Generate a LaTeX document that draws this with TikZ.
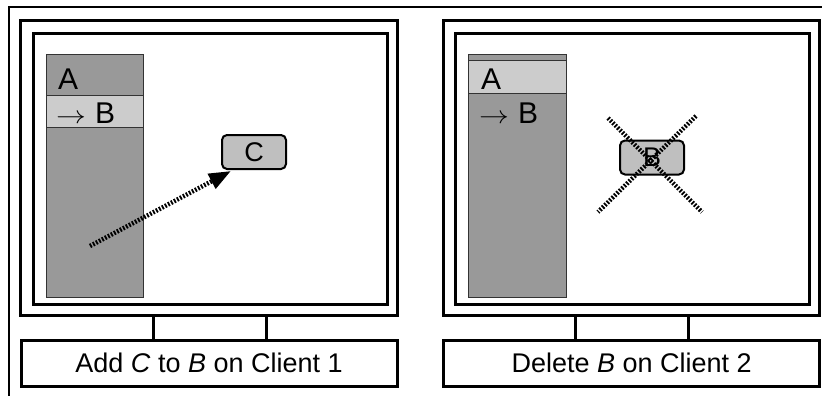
\documentclass[tikz,border=0pt]{standalone}
\usepackage{fontspec}
\setmainfont{Liberation Sans}
\usetikzlibrary{arrows.meta}
\tikzset{>=stealth}
\tikzset{
    frame/.style={line width=3pt},
    panel/.style={draw=black!80, line width=1pt, fill=black!40},
    rowbox/.style={draw=black!80, line width=1pt, fill=black!20},
    item/.style={draw, line width=2pt, rounded corners=5pt, fill=gray!50,
        minimum width=64pt, minimum height=34pt, inner sep=0pt},
    trail/.style={line width=4.5pt, dash pattern=on 1.8pt off 1.6pt},
    entry/.style={anchor=base west, inner sep=0pt, font=\fontsize{30}{36}\selectfont}
}
\newcommand{\pointer}{\scalebox{1.2}[1]{$\rightarrow$}\hspace{9pt}}

\begin{document}
\begin{tikzpicture}[x=1pt, y=-1pt, font=\fontsize{27}{32}\selectfont]
    \useasboundingbox (0,0) rectangle (822,396);
    \draw[line width=2.4pt] (822,7) -- (9,7) -- (9,396);
    \foreach \dx/\n/\txt in {0/1/{Add \textit{C} to \textit{B} on Client 1},
                             422.6/2/{Delete \textit{B} on Client 2}} {
        \begin{scope}[xshift=\dx]
            \draw[frame] (20.7,20.7) rectangle (397,315.7);
            \draw[frame, fill=white] (33,34) rectangle (387.3,304);
            \draw[panel] (46,54.3) rectangle (143.7,297.7);
            \draw[frame] (153,315.7) rectangle (266,340);
            \draw[frame] (21,340) rectangle (397,386.7);
            \node[inner sep=0pt] (cap\n) at (209,363.3) {\txt};
        \end{scope}
    }
    % client 1
    \draw[rowbox] (46,95) rectangle (143.7,127);
    \node[entry] (a1) at (58,89) {A};
    \node[entry] (b1) at (56,123.3) {\pointer B};
    \node[item] (C) at (254,152) {C};
    \coordinate (tail) at (90,246);
    \draw[trail, -{Triangle[length=22pt, width=16pt]}] (tail) -- ([xshift=10pt, yshift=-1pt]C.south west);
    % client 2
    \draw[rowbox] (468.6,61) rectangle (566.3,93.7);
    \node[entry] (a2) at (481,89) {A};
    \node[entry] (b2) at (479,123.3) {\pointer B};
    \node[item] (B) at (652,157.5) {B};
    \coordinate (nw) at (608,118);
    \coordinate (se) at (702,212);
    \coordinate (ne) at (696,116);
    \coordinate (sw) at (598,212);
    \draw[trail] (nw) -- (se);
    \draw[trail] (ne) -- (sw);
\end{tikzpicture}
\end{document}
